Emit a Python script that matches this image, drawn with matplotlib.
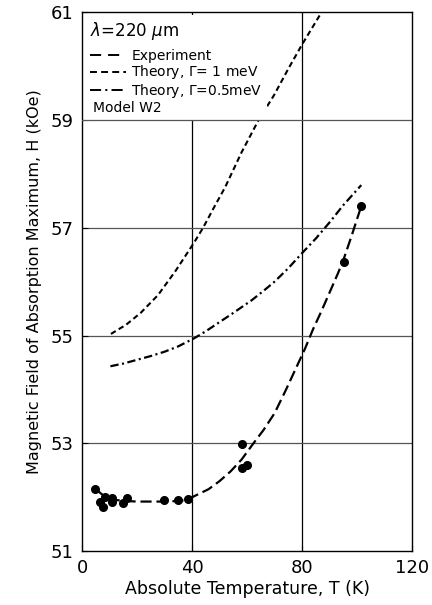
import numpy as np
import matplotlib.pyplot as plt
from matplotlib.lines import Line2D

plt.rcParams['font.family'] = ['DejaVu Sans']
plt.rcParams['lines.scale_dashes'] = False

# measured points (T in K, H in kOe)
t_meas = [4.8, 6.6, 7.7, 8.5, 11.0, 11.0, 15.0, 16.5, 29.8, 35.0, 38.5, 58.0, 58.0, 60.0, 95.2, 101.5]
h_meas = [52.15, 51.91, 51.82, 52.0, 51.98, 51.91, 51.9, 51.98, 51.95, 51.95, 51.97, 52.99, 52.54, 52.6, 56.36, 57.4]

# experiment curve through the data
t_exp = [5, 8, 12, 16, 20, 25, 30, 35, 38, 42, 46, 50, 54, 58, 62.3, 66, 70, 74, 78, 81, 84, 87, 90, 93, 95, 98, 101.5]
h_exp = [52.15, 52.02, 51.95, 51.93, 51.92, 51.92, 51.92, 51.93, 51.95, 52.05, 52.15, 52.3, 52.48, 52.7, 53.0, 53.25, 53.56, 53.98, 54.42, 54.75, 55.12, 55.45, 55.8, 56.15, 56.4, 56.85, 57.4]

# theory, Gamma = 1 meV
t_th1 = [10.5, 16, 21.3, 27.6, 34, 40.8, 44, 48, 52, 58, 64.2, 69.8, 75, 80, 86.4, 90]
h_th1 = [55.03, 55.2, 55.42, 55.75, 56.2, 56.73, 57.0, 57.38, 57.75, 58.4, 59.0, 59.46, 59.95, 60.4, 60.94, 61.25]

# theory, Gamma = 0.5 meV
t_th2 = [10.3, 15, 20, 25, 30, 35, 40.8, 45, 50, 55, 61.8, 66, 70, 75, 80, 85, 90, 95, 101.5]
h_th2 = [54.43, 54.48, 54.55, 54.62, 54.7, 54.8, 54.95, 55.08, 55.25, 55.42, 55.66, 55.83, 56.0, 56.25, 56.53, 56.8, 57.1, 57.42, 57.79]

fig = plt.figure(figsize=(4.32, 6.05), dpi=100)
ax = fig.add_axes([0.19, 0.089, 0.764, 0.891])

ax.set_xlim(0, 120)
ax.set_ylim(51, 61)
ax.set_xticks([0, 40, 80, 120])
ax.set_yticks([51, 53, 55, 57, 59, 61])

for x in [40, 80]:
    ax.axvline(x, color='black', lw=0.9, zorder=1)
for y in [53, 55, 57, 59]:
    ax.axhline(y, color='#555555', lw=0.9, zorder=6 if y == 59 else 1)

ax.plot(t_exp, h_exp, color='black', lw=1.6, linestyle=(0, (8, 3.5)), zorder=3)
ax.plot(t_th1, h_th1, color='black', lw=1.5, linestyle=(0, (4, 2.5)), zorder=3)
ax.plot(t_th2, h_th2, color='black', lw=1.6, linestyle=(0, (6, 2.5, 1.5, 2.5)), zorder=3)
ax.plot(t_meas, h_meas, 'o', color='black', ms=5.5, zorder=4)

ax.tick_params(direction='in', length=4, width=0.8, labelsize=13, pad=6)
for s in ax.spines.values():
    s.set_linewidth(1.0)

ax.set_xlabel('Absolute Temperature, T (K)', fontsize=12.5, labelpad=2)
ax.set_ylabel('Magnetic Field of Absorption Maximum, H (kOe)', fontsize=11.5, labelpad=6)

handles = [
    Line2D([], [], color='black', lw=1.4, linestyle=(0, (8, 5))),
    Line2D([], [], color='black', lw=1.4, linestyle=(0, (5, 3))),
    Line2D([], [], color='black', lw=1.4, linestyle=(0, (8, 3, 1.5, 3))),
    Line2D([], [], color='none'),
]
labels = ['Experiment', 'Theory, $\\Gamma$= 1 meV', 'Theory, $\\Gamma$=0.5meV', 'Model W2']
leg = ax.legend(handles, labels, title='$\\lambda$=220 $\\mu$m', loc='upper left',
                bbox_to_anchor=(0.0, 1.0), fontsize=10, title_fontsize=12,
                alignment='left', handlelength=2.6, handletextpad=0.4,
                labelspacing=0.05, borderpad=0.35, borderaxespad=0.2,
                frameon=True, fancybox=False, facecolor='white', edgecolor='none', framealpha=1)
leg.set_zorder(5)
leg._legend_box.sep = 5
# "Model W2" has no line, shift it left
leg.get_texts()[3].set_x(-38)

fig.savefig('out.png', dpi=100)
